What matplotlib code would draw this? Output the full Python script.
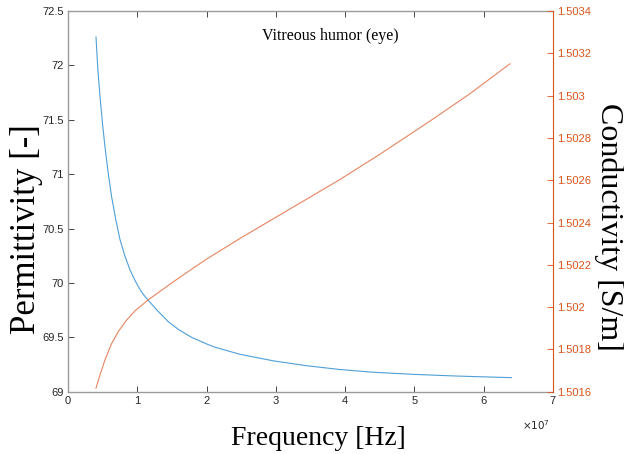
import matplotlib
matplotlib.use("Agg")
import matplotlib.pyplot as plt
from matplotlib.ticker import FuncFormatter, MultipleLocator

# frequency in Hz
freq_eps = [0.404e7, 0.43e7, 0.462e7, 0.50e7, 0.534e7, 0.58e7, 0.63e7, 0.69e7,
            0.75e7, 0.82e7, 0.895e7, 0.97e7, 1.039e7, 1.10e7, 1.159e7, 1.30e7,
            1.447e7, 1.6e7, 1.785e7, 2.0e7, 2.12e7, 2.48e7, 2.96e7, 3.44e7,
            3.92e7, 4.4e7, 5.0e7, 5.6e7, 6.4e7]
permittivity = [72.26, 71.97, 71.71, 71.45, 71.25, 71.01, 70.79, 70.58,
                70.40, 70.25, 70.12, 70.02, 69.94, 69.885, 69.84, 69.74,
                69.645, 69.57, 69.50, 69.44, 69.41, 69.345, 69.285, 69.24,
                69.205, 69.18, 69.16, 69.145, 69.13]

freq_sig = [0.404e7, 0.462e7, 0.534e7, 0.62e7, 0.726e7, 0.837e7, 0.967e7,
            1.159e7, 1.328e7, 1.52e7, 1.76e7, 2.0e7, 2.48e7, 2.96e7, 3.44e7,
            3.93e7, 4.5e7, 5.22e7, 5.8e7, 6.38e7]
conductivity = [1.5016175, 1.5016803, 1.5017512, 1.5018220, 1.5018849,
                1.5019354, 1.5019827, 1.5020346, 1.5020748, 1.5021197,
                1.5021740, 1.5022269, 1.5023240, 1.5024170, 1.5025094,
                1.5026040, 1.5027220, 1.5028780, 1.5030080, 1.5031500]

blue = '#4f9fd8'
orange = '#e8845f'
tick_orange = '#d95319'
spine_gray = '#9a9a9a'
text_dark = '#262626'

fig = plt.figure(figsize=(6.24, 4.54), dpi=100)
ax = fig.add_axes([0.109, 0.137, 0.777, 0.839])
ax2 = ax.twinx()

ax.plot(freq_eps, permittivity, color=blue, lw=0.8)
ax2.plot(freq_sig, conductivity, color=orange, lw=0.8)

ax.set_xlim(0, 7e7)
ax.set_ylim(69, 72.5)
ax2.set_ylim(1.5016, 1.5034)
ax.xaxis.set_major_locator(MultipleLocator(1e7))
ax.yaxis.set_major_locator(MultipleLocator(0.5))
ax2.yaxis.set_major_locator(MultipleLocator(0.0002))

ax.xaxis.set_major_formatter(FuncFormatter(lambda v, p: '%g' % round(v / 1e7, 3)))
ax.yaxis.set_major_formatter(FuncFormatter(lambda v, p: '%g' % round(v, 4)))
ax2.yaxis.set_major_formatter(FuncFormatter(lambda v, p: '%g' % round(v, 5)))

tick_font = 'Liberation Sans'
ax.tick_params(axis='both', direction='in', length=4, width=0.6, labelsize=8,
               colors=text_dark, top=True, pad=3)
ax2.tick_params(axis='y', direction='in', length=4, width=0.6, labelsize=8,
                colors=tick_orange, pad=3)
for lab in ax.get_xticklabels() + ax.get_yticklabels() + ax2.get_yticklabels():
    lab.set_family(tick_font)

for s in ['left', 'bottom', 'top']:
    ax.spines[s].set_color(spine_gray)
    ax.spines[s].set_linewidth(1.0)
ax.spines['right'].set_visible(False)
for s in ['left', 'bottom', 'top']:
    ax2.spines[s].set_visible(False)
ax2.spines['right'].set_color(tick_orange)
ax2.spines['right'].set_linewidth(0.8)

# exponent of the x axis
fig.text(0.859, 0.064, r'$\times10^{7}$', fontsize=7.5, color=text_dark,
         family=tick_font, ha='center', va='center')

serif = 'Liberation Serif'
fig.text(0.51, 0.035, 'Frequency [Hz]', family=serif, fontsize=20,
         ha='center', va='center')
fig.text(0.042, 0.495, 'Permittivity [-]', family=serif, fontsize=25,
         rotation=90, ha='center', va='center')
fig.text(0.976, 0.5, 'Conductivity [S/m]', family=serif, fontsize=23,
         rotation=270, ha='center', va='center')
ax.text(0.54, 0.935, 'Vitreous humor (eye)', transform=ax.transAxes,
        family=serif, fontsize=11.5, ha='center', va='center')

fig.savefig('out.png', dpi=100)
